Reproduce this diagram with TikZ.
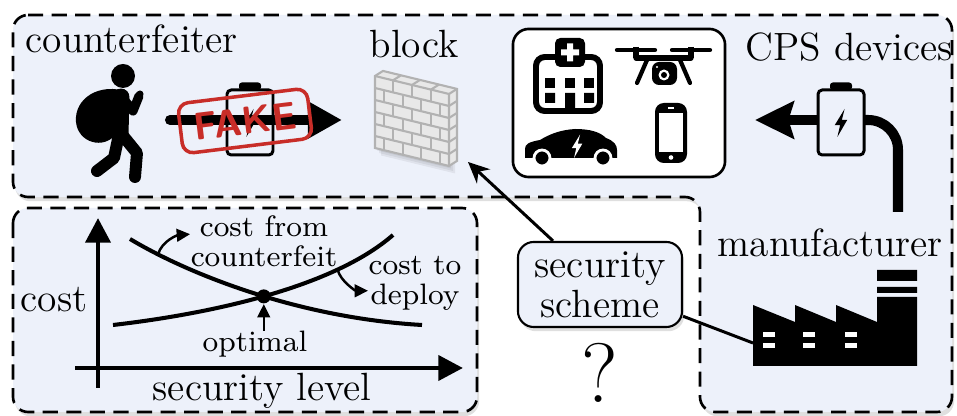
\documentclass[tikz,border=0pt]{standalone}
\usepackage{tikz}
\usepackage{xcolor}
\usetikzlibrary{arrows.meta,shadows,intersections,calc}

\definecolor{panelblue}{RGB}{237,241,250}
\definecolor{stampred}{RGB}{200,45,40}

\begin{document}
\begin{tikzpicture}[x=0.01cm, y=-0.01cm, font=\fontsize{11.2}{11.4}\selectfont,
    panel/.style={draw, line width=0.75pt, dash pattern=on 4.3pt off 2.4pt,
        rounded corners=4.3pt, fill=panelblue,
        drop shadow={opacity=0.25, shadow xshift=0.6pt, shadow yshift=-1.2pt}},
    label/.style={inner sep=0pt, anchor=base west},
    small/.style={inner sep=0pt, font=\fontsize{8.4}{8.5}\selectfont},
    limb/.style={line width=3.4pt, line cap=round, line join=round},
    bigarrow/.style={line width=2.85pt},
    axis/.style={line width=1.4pt, -{Triangle[length=7pt,width=7pt]}},
    curve/.style={line width=1.15pt},
    pointer/.style={line width=0.7pt, -{Triangle[length=3.8pt,width=3.6pt]}},
    mortar/.style={draw=gray!60, line width=0.6pt},
    bolt/.pic={\fill (4,-15) -- (-7,3) -- (-1,3) -- (-4,16) -- (7,-3) -- (1,-3) -- cycle;},
    battery/.pic={
        \draw[line width=0.85pt, rounded corners=1.2pt] (-23,-32.5) rectangle (23,32.5);
        \fill[rounded corners=0.8pt] (-11,-40) rectangle (11,-32.5);
        \pic[scale=0.9] at (0,0) {bolt};}]
\useasboundingbox (0,0) rectangle (957,416);
\fill[white] (0,0) rectangle (957,416);

% panels
\draw[panel] (13,15) -- (952,15) -- (952,412) -- (700,412) -- (700,197) -- (13,197) -- cycle;
\draw[panel] (13,208) rectangle (477,412);

% counterfeiter
\node[label] (thieflbl) at (25,53) {counterfeiter};
\fill (123,76) circle (12);
\fill (128,92) .. controls (100,82) and (74,98) .. (76,122) .. controls (78,143) and (104,150) .. (116,134) .. controls (121,120) and (121,100) .. (128,92) -- cycle;
\draw[limb, line width=4.8pt] (121,97) -- (120,137);
\draw[limb, line width=2.6pt] (123,98) -- (133,111) -- (139,96);
\fill (140,94) circle (3.5);
\draw[limb] (124,137) -- (137,153) -- (135,177);
\draw[limb] (118,139) -- (114,158) -- (97,171);

% fake battery on its way
\coordinate (fakefrom) at (170,120);
\coordinate (faketo) at (342,120);
\draw[bigarrow, line cap=round, -{Triangle[length=9.7pt,width=10pt]}] (fakefrom) -- (faketo);
\pic at (250,122.5) {battery};
\node (stamp) [draw=stampred, line width=1pt, rounded corners=3pt, rotate=7,
    minimum width=1.3cm, minimum height=0.42cm, text=stampred,
    font=\sffamily\bfseries\fontsize{11}{11}\selectfont] at (245,121) {FAKE};

% block
\node[label] (blocklbl) at (369,58) {block};
\begin{scope}[shift={(375,76)}, yslant=-0.243]
    \foreach \s in {2,4,6}
        \fill[black, opacity=0.06] (\s,\s) rectangle (74+\s,72+\s);
    \fill[gray!18] (0,0) -- (8,-7) -- (82,-7) -- (82,65) -- (74,72) -- (0,72) -- cycle;
    \draw[mortar] (0,0) -- (8,-7) -- (82,-7) -- (82,65) -- (74,72) -- (0,72) -- cycle;
    \draw[mortar] (0,0) -- (74,0) -- (82,-7) (74,0) -- (74,72);
    \foreach \r in {1,...,5}
        \draw[mortar] (0,12*\r) -- (74,12*\r) -- (82,12*\r-7);
    \foreach \r in {0,2,4}
        \foreach \x in {18,37,56}
            \draw[mortar] (\x,12*\r) -- (\x,12*\r+12);
    \foreach \r in {1,3,5}
        \foreach \x in {9,28,46,65}
            \draw[mortar] (\x,12*\r) -- (\x,12*\r+12);
    \foreach \x in {18,37,56}
        \draw[mortar] (\x,0) -- (\x+8,-7);
\end{scope}

% CPS devices
\node[label] (cpslbl) at (745,61) {CPS devices};
\node (devices) [draw, line width=0.75pt, rounded corners=4.5pt, fill=white,
    minimum width=2.12cm, minimum height=1.48cm] at (619,103) {};
% hospital
\fill[rounded corners=1.5pt] (555,38) rectangle (585,67);
\fill[white] (561,49.5) rectangle (579,55.5) (567,43.5) rectangle (573,61.5);
\draw[line width=1.7pt, rounded corners=2.5pt] (555,57) -| (536,111) -- (600,111) |- (585,57);
\foreach \wx in {545,565,584}
    \fill (\wx,78) rectangle ++(10,10);
\fill (545,93) rectangle ++(10,10) (584,93) rectangle ++(10,10) (565,93) rectangle (575,111);
% drone
\draw[line width=1.2pt, line cap=round] (617,50) -- (655,50) (672,50) -- (710,50);
\draw[line width=1.5pt] (636,47) -- (636,58) (691,47) -- (691,58);
\draw[line width=1.5pt, line cap=round] (636,58) -- (691,58);
\draw[line width=1.2pt, line cap=round] (647,60) -- (637,83) (680,60) -- (690,83);
\fill[rounded corners=2pt] (652,62) rectangle (677,85);
\fill[white] (664,75) circle (5.5);
\fill (664,75) circle (3);
\fill[white] (657,67) circle (1.2);
% car
\fill (525,158) -- (525,149) .. controls (525,144) and (529,142) .. (540,140) .. controls (550,134) and (560,130) .. (575,129) .. controls (590,129) and (600,132) .. (606,138) .. controls (614,141) and (617,145) .. (617,150) -- (617,158) -- cycle;
\filldraw[draw=white, line width=0.8pt] (542,158) circle (8) (603,158) circle (8);
\pic[white, scale=0.75] at (577,146) {bolt};
% phone
\fill[rounded corners=2.5pt] (655,103) rectangle (687,163);
\fill[white] (659,113) rectangle (683,152);
\fill[white] (671,157.5) circle (2.3);
\draw[white, line width=0.5pt] (668,108) -- (674,108);

% supply chain from the plant
\pic at (841,122.5) {battery};
\coordinate (supplyW) at (818,120);
\coordinate (supplyE) at (864,120);
\coordinate (devtip) at (755,120);
\coordinate (plantTop) at (898,212);
\draw[bigarrow, -{Stealth[length=11pt,width=10.5pt,inset=1.5pt]}] (supplyW) -- (devtip);
\draw[bigarrow, rounded corners=8.5pt] (supplyE) -| (plantTop);

% manufacturer
\node[label] (mfrlbl) at (717,257) {manufacturer};
\fill (753,366) -- (753,305) -- (795,322) -- (795,305) -- (836,322) -- (836,305) -- (877,322) -- (877,297) -- (917,297) -- (917,366) -- cycle;
\fill (877,270) rectangle (917,281) (877,287) rectangle (917,293);
\foreach \wx in {763,803,845} {
    \fill[white] (\wx,332) rectangle ++(12,5);
    \fill[white] (\wx,343) rectangle ++(12,5);
}
\coordinate (factory) at (753,343);

% security scheme
\node (scheme) [draw, line width=0.6pt, rounded corners=4.5pt, fill=panelblue,
    align=center, inner sep=0pt, minimum width=1.64cm, minimum height=0.85cm,
    drop shadow={opacity=0.25, shadow xshift=0.6pt, shadow yshift=-1.2pt}]
    at (600,284.5) {security\\scheme};
\node (unknown) [inner sep=0pt, anchor=base, font=\fontsize{24}{24}\selectfont] at (600,403) {?};
\coordinate (blockhit) at (468,162);
\draw[line width=0.85pt, -{Stealth[length=6pt,width=5.5pt]}] (scheme) -- (blockhit);
\draw[line width=0.85pt] (scheme) -- (factory);

% cost vs. security level
\draw[axis] (98,388) -- (98,218);
\draw[axis] (75,368) -- (463,368);
\node[label] (costlbl) at (20,312) {cost};
\node[label] (levellbl) at (152,401) {security level};
\draw[curve, name path=attack] (130,239) .. controls (190,275) and (300,318) .. coordinate[pos=0.14] (onattack) (422,325);
\draw[curve, name path=deploy] (113,325) .. controls (200,315) and (330,290) .. coordinate[pos=0.76] (ondeploy) (393,235);
\path[name intersections={of=attack and deploy, by=opt}];
\node (optdot) [circle, fill, inner sep=0pt, minimum size=0.14cm] at (opt) {};
\node[small, anchor=north, align=center] (fromlbl) at (264,215) {cost from\\counterfeit};
\node[small, anchor=north, align=center] (deploylbl) at (415,256) {cost to\\deploy};
\node[small, anchor=base] (optlbl) at (255,352) {optimal};
\draw[pointer] (onattack) .. controls +(4,-14) and +(-12,1) .. ([yshift=2pt]fromlbl.west);
\draw[pointer] (ondeploy) .. controls +(3,12) and +(-12,0) .. ([yshift=-2pt]deploylbl.west);
\draw[pointer] (optlbl.north -| optdot) -- (optdot);
\end{tikzpicture}
\end{document}
